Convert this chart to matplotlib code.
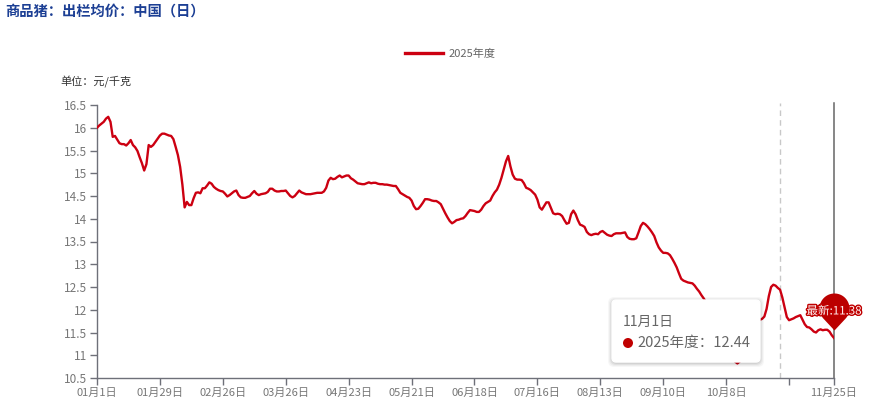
import numpy as np
import pandas as pd
import matplotlib
matplotlib.use("Agg")
import matplotlib.pyplot as plt
import matplotlib.transforms as mtransforms
from matplotlib.path import Path
from matplotlib.patches import FancyBboxPatch, Circle
from matplotlib.lines import Line2D
import matplotlib.patheffects as pe

plt.rcParams['font.family'] = ['Noto Sans CJK SC', 'DejaVu Sans']

# daily hog price, 2025-01-01 .. 2025-11-25 (yuan/kg)
dates = pd.date_range("2025-01-01", "2025-11-25", freq="D")
prices = [
    16.00, 16.05, 16.09, 16.13, 16.20, 16.24, 16.13, 15.80, 15.82, 15.74,
    15.66, 15.64, 15.64, 15.61, 15.66, 15.73, 15.62, 15.57, 15.49, 15.35,
    15.22, 15.06, 15.20, 15.62, 15.58, 15.62, 15.69, 15.76, 15.83, 15.87,
    15.87, 15.85, 15.83, 15.82, 15.75, 15.58, 15.40, 15.14, 14.75, 14.25,
    14.37, 14.30, 14.30, 14.45, 14.57, 14.58, 14.56, 14.67, 14.67, 14.73,
    14.80, 14.77, 14.70, 14.66, 14.63, 14.61, 14.60, 14.55, 14.49, 14.52,
    14.56, 14.60, 14.62, 14.52, 14.47, 14.46, 14.46, 14.48, 14.50, 14.56,
    14.61, 14.55, 14.52, 14.54, 14.55, 14.56, 14.59, 14.66, 14.66, 14.62,
    14.60, 14.60, 14.61, 14.61, 14.62, 14.56, 14.50, 14.47, 14.50, 14.56,
    14.62, 14.58, 14.56, 14.54, 14.54, 14.54, 14.55, 14.56, 14.57, 14.57,
    14.57, 14.60, 14.68, 14.84, 14.90, 14.87, 14.88, 14.92, 14.95, 14.91,
    14.93, 14.95, 14.95, 14.89, 14.86, 14.82, 14.78, 14.77, 14.76, 14.76,
    14.78, 14.80, 14.78, 14.79, 14.79, 14.77, 14.76, 14.76, 14.75, 14.75,
    14.74, 14.73, 14.72, 14.72, 14.65, 14.57, 14.54, 14.51, 14.48, 14.46,
    14.40, 14.28, 14.21, 14.22, 14.28, 14.35, 14.43, 14.43, 14.42, 14.40,
    14.39, 14.39, 14.36, 14.32, 14.22, 14.12, 14.03, 13.95, 13.90, 13.93,
    13.97, 13.98, 14.00, 14.01, 14.06, 14.13, 14.19, 14.18, 14.17, 14.15,
    14.15, 14.20, 14.28, 14.34, 14.37, 14.40, 14.50, 14.58, 14.64, 14.75,
    14.90, 15.08, 15.26, 15.38, 15.15, 14.97, 14.88, 14.86, 14.86, 14.85,
    14.78, 14.68, 14.66, 14.63, 14.58, 14.53, 14.42, 14.25, 14.20, 14.28,
    14.36, 14.36, 14.24, 14.12, 14.10, 14.11, 14.10, 14.06, 13.97, 13.89,
    13.91, 14.10, 14.18, 14.10, 13.97, 13.87, 13.85, 13.82, 13.71, 13.66,
    13.64, 13.66, 13.67, 13.66, 13.71, 13.73, 13.69, 13.65, 13.63, 13.62,
    13.66, 13.68, 13.68, 13.68, 13.69, 13.70, 13.60, 13.56, 13.55, 13.55,
    13.57, 13.70, 13.84, 13.91, 13.88, 13.83, 13.77, 13.70, 13.62, 13.48,
    13.37, 13.30, 13.25, 13.25, 13.24, 13.20, 13.12, 13.03, 12.93, 12.80,
    12.68, 12.64, 12.62, 12.60, 12.59, 12.58, 12.53, 12.46, 12.40, 12.32,
    12.25, 12.17, 12.08, 11.98, 11.88, 11.78, 11.68, 11.57, 11.46, 11.35,
    11.24, 11.13, 11.02, 10.93, 10.86, 10.82, 10.86, 11.00, 11.20, 11.40,
    11.55, 11.65, 11.72, 11.76, 11.77, 11.78, 11.80, 11.85, 12.02, 12.30,
    12.50, 12.55, 12.53, 12.48, 12.44, 12.27, 12.05, 11.84, 11.77, 11.79,
    11.81, 11.84, 11.86, 11.88, 11.78, 11.68, 11.62, 11.61, 11.57, 11.52,
    11.50, 11.55, 11.57, 11.55, 11.56, 11.56, 11.52, 11.44, 11.38,
]
series_name = "2025年度"
tick_days = [0, 28, 56, 84, 112, 140, 168, 196, 224, 252, 280, 308, 328]
tick_labels = ["01月1日", "01月29日", "02月26日", "03月26日", "04月23日", "05月21日",
               "06月18日", "07月16日", "08月13日", "09月10日", "10月8日", "", "11月25日"]
y_ticks = [10.5, 11, 11.5, 12, 12.5, 13, 13.5, 14, 14.5, 15, 15.5, 16, 16.5]
hover_date = "2025-11-01"

assert len(prices) == len(dates)
x = np.arange(len(dates))

RED = '#cc0011'
AXIS = '#6e7079'
W, H = 869, 403

fig = plt.figure(figsize=(W / 100, H / 100), dpi=100)
fig.patch.set_facecolor('white')
ax = fig.add_axes([97 / W, 25 / H, 737 / W, 273 / H])

ax.plot(x, prices, color=RED, linewidth=1.7, zorder=3, solid_joinstyle='round')

ax.set_xlim(0, len(dates) - 1)
ax.set_ylim(10.5, 16.5)
ax.set_yticks(y_ticks)
ax.set_yticklabels([f"{v:g}" for v in y_ticks])
ax.set_xticks(tick_days)
ax.set_xticklabels(tick_labels)

for s in ['top', 'right']:
    ax.spines[s].set_visible(False)
for s in ['left', 'bottom']:
    ax.spines[s].set_color(AXIS)
    ax.spines[s].set_linewidth(1)
ax.tick_params(axis='both', colors=AXIS, length=5, width=1, labelsize=8)
ax.tick_params(axis='y', pad=2, labelcolor='#777777', labelsize=8.5)
ax.tick_params(axis='x', pad=2, labelcolor='#777777')

# hover pointer and end line
hover_i = int((pd.Timestamp(hover_date) - dates[0]).days)
ax.axvline(hover_i, ymax=1.007, color='#c8c8c8', linestyle=(0, (4, 3)), linewidth=1,
           zorder=2, clip_on=False)
ax.axvline(x[-1], ymax=1.007, color='#666666', linewidth=1.1, zorder=2, clip_on=False)

# pin marker at the latest value (path in pixels, tip a bit above the point)
r, cy, tip = 15.0, 30.0, 8.0
a = np.arccos(r / (cy - tip))
t = np.linspace(-np.pi / 2 + a, 3 * np.pi / 2 - a, 60)
verts = np.column_stack([r * np.cos(t), cy + r * np.sin(t)])
verts = np.vstack([verts, [0, tip], verts[:1]])
codes = [Path.MOVETO] + [Path.LINETO] * (len(verts) - 2) + [Path.CLOSEPOLY]
pin = Path(verts, codes)
msize = 2 * (cy + r) * 0.72
ax.plot([x[-1]], [prices[-1]], marker=pin, markersize=msize, color='#bb0000',
        markeredgewidth=0, linestyle='none', clip_on=False, zorder=6)
ax.annotate(f"最新:{prices[-1]:.2f}", xy=(x[-1], prices[-1]), xytext=(0, 27),
            textcoords='offset pixels', ha='center', va='center', fontsize=8.3,
            color='#fff4f4', zorder=7, annotation_clip=False,
            path_effects=[pe.withStroke(linewidth=2, foreground='#c00000')])

# pixel transform for the figure-level decorations (origin bottom-left)
T = mtransforms.Affine2D().scale(1 / fig.dpi) + fig.dpi_scale_trans

fig.text(5, H - 12, "商品猪：出栏均价：中国（日）", transform=T, fontsize=10.3,
         fontweight='bold', color='#1c3f94', va='center', ha='left')
fig.text(60, H - 82, "单位：元/千克", transform=T, fontsize=8, color='#333333',
         va='center', ha='left')

# legend
fig.legend(handles=[Line2D([0], [0], color=RED, linewidth=2.4, label=series_name)],
           loc='center', bbox_to_anchor=(450 / W, 1 - 54 / H), frameon=False,
           fontsize=8, handlelength=3.4, handletextpad=0.5, labelcolor='#666666')

# tooltip
bx, by, bw, bh = 612, H - 362, 148, 62
for k, al in [(4, 0.03), (3, 0.04), (2, 0.05), (1, 0.06)]:
    fig.patches.append(FancyBboxPatch((bx - k, by - k - 1), bw + 2 * k, bh + 2 * k,
                                      boxstyle="round,pad=0,rounding_size=6",
                                      transform=T, facecolor='#000000', alpha=al,
                                      edgecolor='none', zorder=8))
fig.patches.append(FancyBboxPatch((bx, by), bw, bh, boxstyle="round,pad=0,rounding_size=4",
                                  transform=T, facecolor='white', edgecolor='#ffffff',
                                  zorder=9))
hd = pd.Timestamp(hover_date)
fig.text(623, H - 322, f"{hd.month}月{hd.day}日", transform=T, fontsize=10,
         color='#666666', va='center', ha='left', zorder=10)
fig.patches.append(Circle((628, H - 343), 5, transform=T, facecolor='#c00000',
                          edgecolor='none', zorder=10))
fig.text(637, H - 343, f"{series_name}：{prices[hover_i]:.2f}", transform=T,
         fontsize=10.5, color='#666666', va='center', ha='left', zorder=10)

fig.savefig("out.png", dpi=100)
